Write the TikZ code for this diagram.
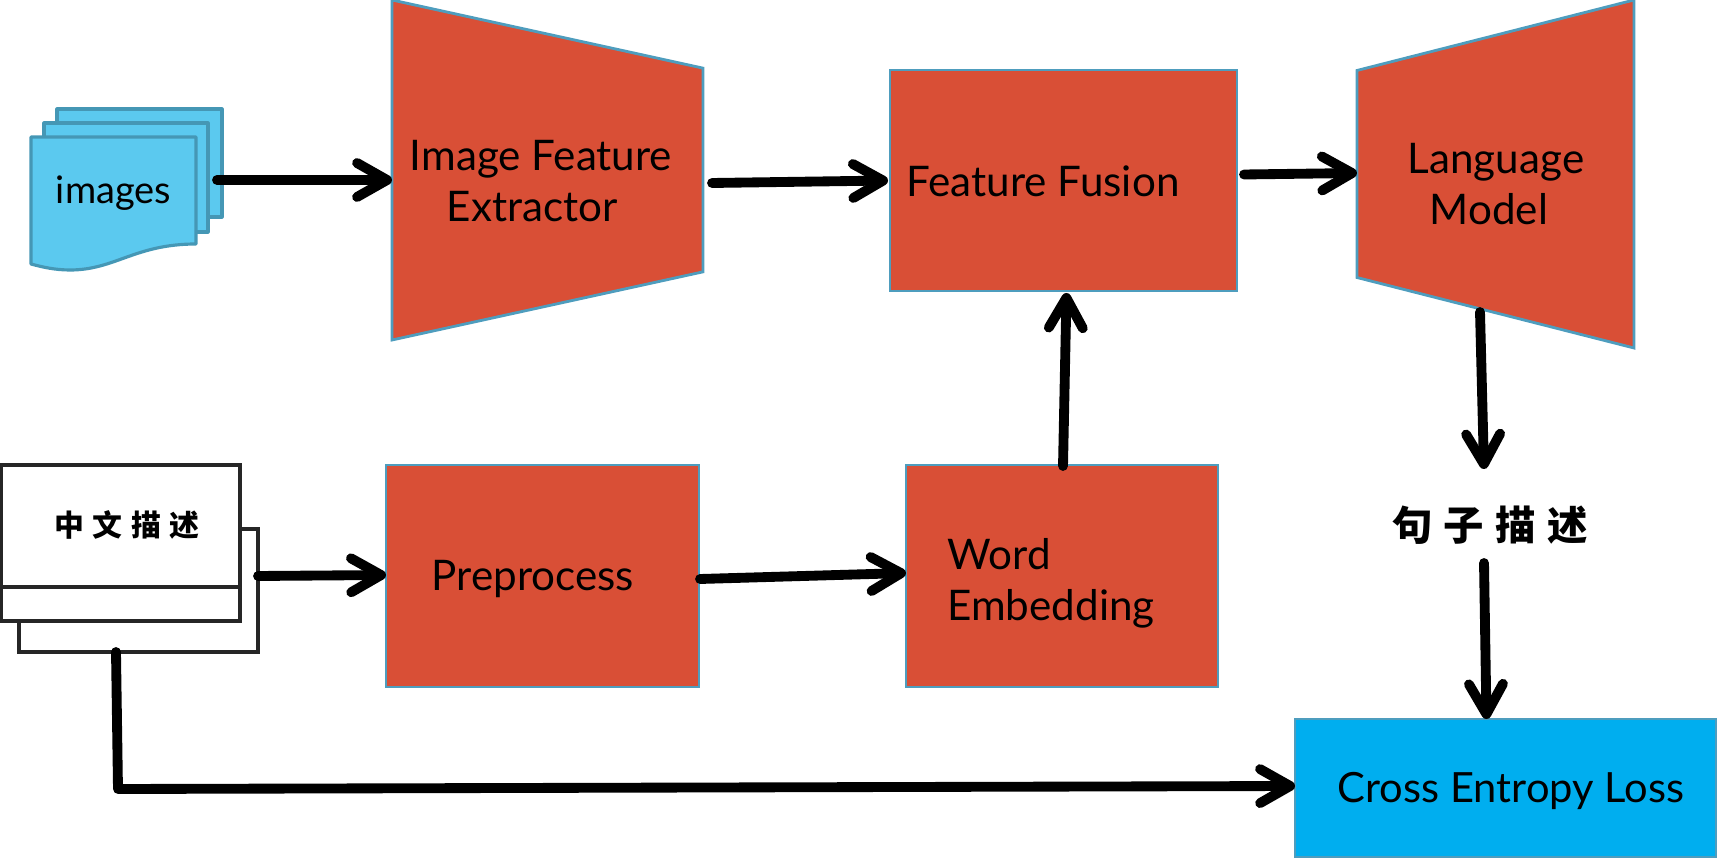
\documentclass[tikz,border=0pt]{standalone}
\usepackage{fontspec}
\setmainfont{Lato}
\newfontfamily\cjk[LetterSpace=28]{Noto Sans CJK SC}
\usepackage{xcolor}
\usetikzlibrary{positioning, arrows.meta, shapes.geometric, calc}
\definecolor{blockred}{HTML}{D94F36}
\definecolor{blockedge}{HTML}{4E9DBE}
\definecolor{docblue}{HTML}{5BC9EF}
\definecolor{docedge}{HTML}{4597B5}
\definecolor{lossblue}{HTML}{00AEEF}
\tikzset{
  blockbox/.style={draw=blockedge, fill=blockred, line width=0.8pt, inner sep=0pt, outer sep=0pt},
  trapbox/.style={blockbox, trapezium, inner sep=1pt, trapezium stretches=true, shape border rotate=#1},
  docsheet/.style={draw=docedge, fill=docblue, line width=0.9pt, line join=round},
  textsheet/.style={draw=black!85, fill=white, line width=0.9pt, inner sep=0pt, outer sep=0pt},
  labeltext/.style={font=\fontsize{12}{14.5}\selectfont, align=center, inner sep=0pt},
  flowarrow/.style={-{Straight Barb[length=0.30cm, width=0.34cm, round]}, line width=2.8pt, line cap=round, line join=round,
    preaction={draw=black!25, transform canvas={yshift=-0.7pt}}}
}
\begin{document}
\begin{tikzpicture}
  \useasboundingbox (0,0) rectangle (17.18,8.60);
  % Image stack
  \node[docsheet, rectangle, minimum width=1.65cm, minimum height=1.08cm, inner sep=0pt, outer sep=0pt] (imagesback) at (1.395,6.97) {};
  \node[docsheet, rectangle, minimum width=1.64cm, minimum height=1.09cm, inner sep=0pt, outer sep=0pt] (imagesmid) at (1.26,6.825) {};
  \draw[docsheet] (0.31,7.23) -- (1.96,7.23) -- (1.96,6.16)
    .. controls (1.35,6.16) and (1.15,5.90) .. (0.70,5.90)
    .. controls (0.55,5.90) and (0.42,5.93) .. (0.31,5.96) -- cycle;
  \node[labeltext, font=\fontsize{10.8}{13}\selectfont] (images) at (1.135,6.67) {images};

  % Upper row
  \node[trapbox=270, minimum width=3.40cm, minimum height=3.11cm, trapezium left angle=71.5, trapezium right angle=71.5] (extractor) at (5.475,6.90) {};
  \node[labeltext] (extractortext) at (5.41,6.79) {Image Feature\\Extractor\hspace*{5pt}};
  \node[blockbox, rectangle, minimum width=3.47cm, minimum height=2.21cm] (fusion) at (10.635,6.795) {};
  \node[labeltext] (fusiontext) at (10.43,6.79) {Feature Fusion};
  \node[trapbox=90, minimum width=3.48cm, minimum height=2.77cm, trapezium left angle=71.2, trapezium right angle=71.2] (language) at (14.955,6.86) {};
  \node[labeltext] (languagetext) at (14.96,6.76) {Language\\Model\hspace*{4pt}};

  % Lower row
  \node[textsheet, rectangle, minimum width=2.39cm, minimum height=1.23cm] (textback) at (1.385,2.695) {};
  \node[textsheet, rectangle, minimum width=2.39cm, minimum height=1.56cm] (textfront) at (1.205,3.17) {};
  \draw[textsheet] (textfront.west |- 0,2.73) -- (textfront.east |- 0,2.73);
  \node[labeltext, font=\fontsize{8.5}{10}\bfseries\cjk] (texttext) at (1.27,3.35) {中文描述};
  \node[blockbox, rectangle, minimum width=3.13cm, minimum height=2.22cm] (preprocess) at (5.425,2.84) {};
  \node[labeltext] (preprocesstext) at (5.33,2.81) {Preprocess};
  \node[blockbox, rectangle, minimum width=3.12cm, minimum height=2.22cm] (embedding) at (10.62,2.84) {};
  \node[labeltext, align=left] (embeddingtext) at (10.51,2.77) {Word\\Embedding};
  \node[labeltext, font=\fontsize{11.5}{14}\bfseries\cjk] (sentence) at (14.90,3.35) {句子描述};
  \node[draw=blockedge, fill=lossblue, line width=0.8pt, inner sep=0pt, outer sep=0pt, rectangle, minimum width=4.21cm, minimum height=1.38cm] (loss) at (15.055,0.72) {};
  \node[labeltext, font=\fontsize{11.85}{14}\selectfont] (losstext) at (15.11,0.69) {Cross Entropy Loss};

  % Arrows
  \draw[flowarrow] ([xshift=-0.05cm, yshift=-0.17cm]imagesback.east) -- (extractor.west |- 0,6.80);
  \draw[flowarrow] ([xshift=0.09cm, yshift=-0.13cm]extractor.east) -- ([xshift=-0.02cm]fusion.west);
  \draw[flowarrow] ([xshift=0.07cm, yshift=0.06cm]fusion.east) -- ([yshift=0.01cm]language.west);
  \draw[flowarrow] ([xshift=0.01cm, yshift=-0.01cm]embedding.north) -- ([xshift=0.03cm, yshift=-0.02cm]fusion.south);
  \draw[flowarrow] ([xshift=-0.155cm, yshift=-1.38cm]language.center) -- ([xshift=-0.06cm, yshift=0.36cm]sentence.north);
  \draw[flowarrow] ([xshift=-0.06cm, yshift=-0.18cm]sentence.south) -- ([xshift=-0.19cm]loss.north);
  \draw[flowarrow] (textback.east |- 0,2.84) -- ([yshift=0.01cm]preprocess.west);
  \draw[flowarrow] ([xshift=0.01cm, yshift=-0.03cm]preprocess.east) -- ([yshift=0.03cm]embedding.west);
  \draw[flowarrow] ([xshift=-0.225cm]textback.south) -- (1.18,0.71) -- (loss.west |- 0,0.74);
\end{tikzpicture}
\end{document}
